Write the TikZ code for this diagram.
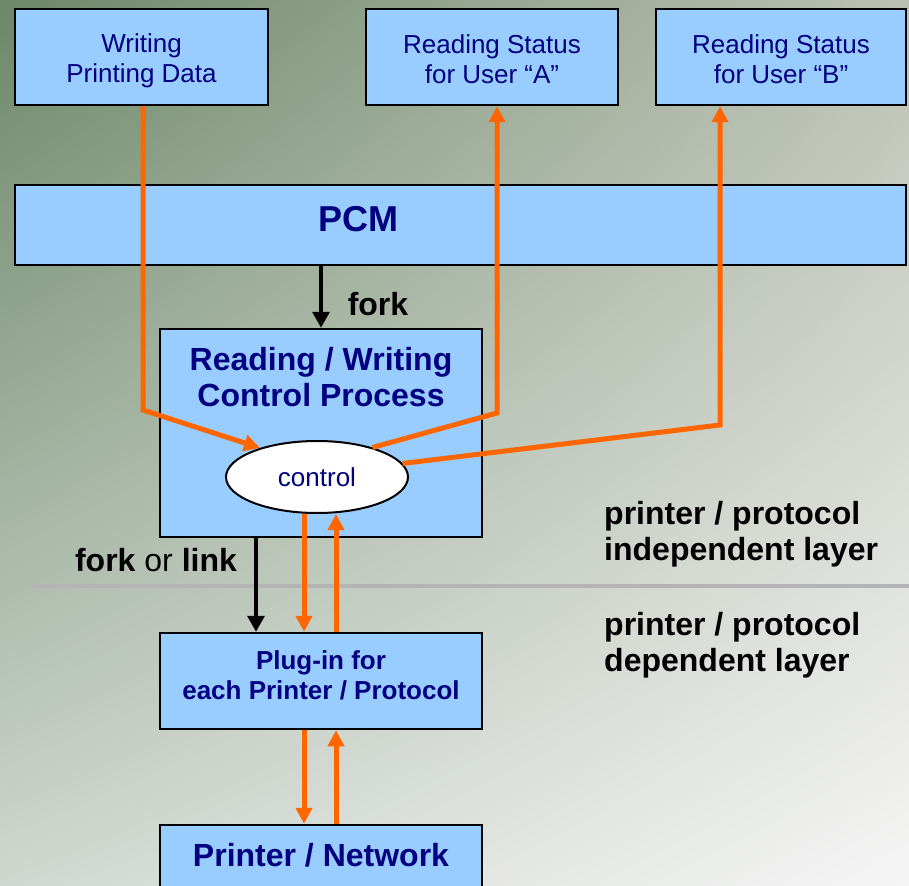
\documentclass[tikz,border=0pt]{standalone}
\usepackage{fontspec}
\setmainfont{Liberation Sans}
\usetikzlibrary{arrows.meta,shapes.geometric,calc,shadings}
\definecolor{boxblue}{HTML}{99CCFF}
\definecolor{navy}{HTML}{000080}
\definecolor{flow}{HTML}{FF6600}
\definecolor{layerrule}{HTML}{B4B4B4}
\definecolor{bgUL}{HTML}{6C8868}
\definecolor{bgUR}{HTML}{BCC1B4}
\definecolor{bgLL}{HTML}{D0D7D0}
\definecolor{bgLR}{HTML}{F5F5F5}
\newcommand{\regtext}{\fontsize{26}{30}\selectfont}
\newcommand{\boldmid}{\fontsize{26}{30}\selectfont\bfseries}
\newcommand{\boldbig}{\fontsize{32}{36}\selectfont\bfseries}
\newcommand{\boldhuge}{\fontsize{36}{40}\selectfont\bfseries}
\begin{document}
\begin{tikzpicture}[x=1pt,y=-1pt,
  box/.style={draw=black,line width=2.5pt,fill=boxblue,inner sep=0pt},
  plain/.style={inner sep=0pt,align=center},
  boxtext/.style={plain,text=navy},
  flowline/.style={draw=flow,line width=5pt,line join=miter},
  flowarrow/.style={flowline,-{Triangle[width=16pt,length=16pt]}},
  forkarrow/.style={draw=black,line width=3.5pt,-{Triangle[width=17pt,length=16pt]}}]
\useasboundingbox (0,0) rectangle (909,885);
\clip (0,0) rectangle (909,885);
% background
\shade[upper left=bgUL,upper right=bgUR,lower left=bgLL,lower right=bgLR]
  (0,0) rectangle (909,885);
% layer separator
\draw[layerrule,line width=4pt] (32,586) -- (909,586);

% top row
\node[box,minimum width=253pt,minimum height=96pt] (wr) at (141.5,57) {};
\node[boxtext,font=\regtext] (wrlabel) at (141.5,61) {Writing\\Printing Data};
\node[box,minimum width=252pt,minimum height=96pt] (ra) at (492,57) {};
\node[boxtext,font=\regtext] (ralabel) at (492,59.5) {Reading Status\\for User “A”};
\node[box,minimum width=250pt,minimum height=96pt] (rb) at (781,57) {};
\node[boxtext,font=\regtext] (rblabel) at (781,59.5) {Reading Status\\for User “B”};

% PCM bar
\node[box,minimum width=891pt,minimum height=80pt] (pcm) at (460.5,225) {};
\node[boxtext,font=\boldhuge] (pcmlabel) at (358,219) {PCM};

% control process
\node[box,minimum width=322pt,minimum height=208pt] (rw) at (321,433) {};
\node[boxtext,font=\boldbig] (rwlabel) at (321,377) {Reading / Writing\\Control Process};
\node[ellipse,draw=black,line width=2pt,fill=white,minimum width=182pt,minimum height=72pt,inner sep=0pt,
  font=\regtext,text=navy] (ctl) at (317,477) {control};

% plug-in and printer
\node[box,minimum width=322pt,minimum height=96pt] (plug) at (321,681) {};
\node[boxtext,font=\boldmid] (pluglabel) at (321,675) {Plug-in for\\each Printer / Protocol};
\node[box,minimum width=322pt,minimum height=80pt] (pn) at (321,865) {};
\node[boxtext,font=\boldbig] (pnlabel) at (321,855) {Printer / Network};

% labels
\node[plain,font=\boldbig] (forklabel) at (378,304) {fork};
\node[plain,font=\fontsize{32}{36}\selectfont] (forklink) at (156,560) {\textbf{fork} or \textbf{link}};
\node[plain,font=\boldbig,align=left,anchor=west] (indep) at (604,534) {printer / protocol\\independent layer};
\node[plain,font=\boldbig,align=left,anchor=west] (dep) at (604,645) {printer / protocol\\dependent layer};

% process creation
\draw[forkarrow] (rw.north |- pcm.south) -- (rw.north);
\draw[forkarrow] ([xshift=-65pt]rw.south) -- ([xshift=-65pt]plug.north);

% data flows
\coordinate (w1) at (143,410);
\coordinate (a1) at (497,413);
\coordinate (b1) at (720,425);
\draw[flowarrow] (wr.south -| w1) -- (w1) -- (ctl.153);
\draw[flowarrow] (ctl.28) -- (a1) -- (ra.south -| a1);
\draw[flowarrow] (ctl.9) -- (b1) -- (rb.south -| b1);
\draw[flowarrow] ([xshift=-13pt]ctl.south) -- ([xshift=-17pt]plug.north);
\draw[flowarrow] ([xshift=15pt]plug.north) -- ([xshift=19pt]ctl.south);
\draw[flowarrow] ([xshift=-17pt]plug.south) -- ([xshift=-17pt]pn.north);
\draw[flowarrow] ([xshift=15pt]pn.north) -- ([xshift=15pt]plug.south);
\end{tikzpicture}
\end{document}
